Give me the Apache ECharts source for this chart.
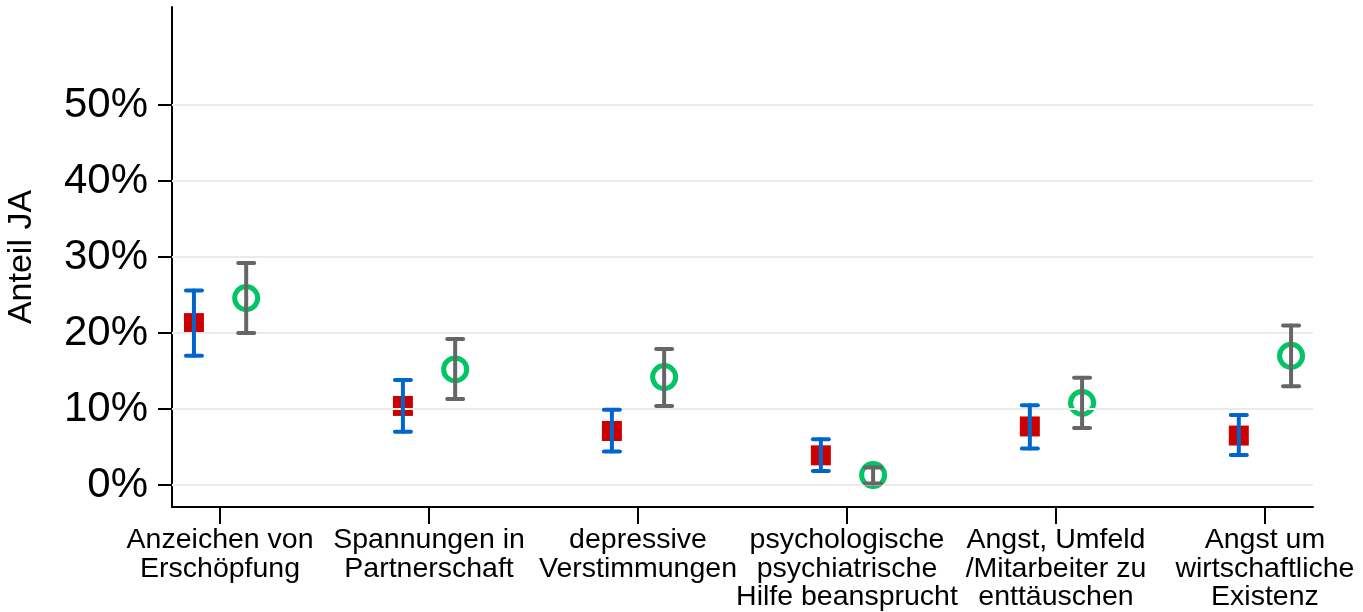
<!DOCTYPE html>
<html>
<head>
<meta charset="utf-8">
<script src="https://cdn.jsdelivr.net/npm/echarts@6/dist/echarts.min.js"></script>
<style>html,body{margin:0;padding:0;background:#fff}#c{width:1363px;height:612px}</style>
</head>
<body>
<div id="c"></div>
<script>
const categories = ['Anzeichen von\nErschöpfung', 'Spannungen in\nPartnerschaft', 'depressive\nVerstimmungen', 'psychologische\npsychiatrische\nHilfe beansprucht', 'Angst, Umfeld\n/Mitarbeiter zu\nenttäuschen', 'Angst um\nwirtschaftliche\nExistenz'];
const redValues = [21.3, 10.4, 7.1, 3.9, 7.7, 6.5];
const redLow = [17.0, 7.0, 4.4, 1.85, 4.8, 3.95];
const redHigh = [25.6, 13.8, 9.9, 6.0, 10.5, 9.2];
const greenValues = [24.6, 15.2, 14.2, 1.3, 10.8, 17.0];
const greenLow = [20.0, 11.3, 10.4, 0.2, 7.5, 13.0];
const greenHigh = [29.2, 19.2, 17.9, 2.3, 14.1, 21.0];
const yTicks = [0, 10, 20, 30, 40, 50];
const xTicks = [1, 2, 3, 4, 5, 6];
const offset = 0.125;

const FONT = 'Liberation Sans, Arial, sans-serif';
const chart = echarts.init(document.getElementById('c'), null, {renderer: 'canvas'});

function pts(vals, d) { return vals.map((v, i) => [xTicks[i] + d, v]); }
function bars(lo, hi, d) { return lo.map((l, i) => [xTicks[i] + d, l, hi[i]]); }

function errRender(color) {
  return function (params, api) {
    const x = api.value(0);
    const p1 = api.coord([x, api.value(1)]);
    const p2 = api.coord([x, api.value(2)]);
    const hw = 8;
    const mk = (x1, y1, x2, y2) => ({
      type: 'line', shape: {x1: x1, y1: y1, x2: x2, y2: y2},
      style: {stroke: color, lineWidth: 4, lineCap: 'round', fill: null}
    });
    return {
      type: 'group',
      children: [
        mk(p1[0], p1[1], p2[0], p2[1]),
        mk(p1[0] - hw, p1[1], p1[0] + hw, p1[1]),
        mk(p2[0] - hw, p2[1], p2[0] + hw, p2[1])
      ]
    };
  };
}

chart.setOption({
  animation: false,
  backgroundColor: '#fff',
  grid: {left: 172, right: 50, top: 7, bottom: 105, containLabel: false, outerBoundsMode: 'none'},
  xAxis: {
    type: 'value', min: 0.77, max: 6.23,
    axisLine: {show: true, onZero: false, lineStyle: {color: '#000', width: 2}},
    axisTick: {show: true, customValues: xTicks, length: 17, lineStyle: {color: '#000', width: 2}},
    axisLabel: {
      customValues: xTicks, margin: 19,
      formatter: v => categories[Math.round(v) - 1] || '',
      fontFamily: FONT, fontSize: 28.5, lineHeight: 28.5, color: '#000'
    },
    splitLine: {show: false}
  },
  yAxis: {
    type: 'value', min: -2.9, max: 62.9,
    name: 'Anteil JA', nameLocation: 'middle', nameGap: 133,
    nameTextStyle: {fontFamily: FONT, fontSize: 34, color: '#000'},
    axisLine: {show: true, onZero: false, lineStyle: {color: '#000', width: 2}},
    axisTick: {show: true, customValues: yTicks, length: 14, lineStyle: {color: '#000', width: 2}},
    axisLabel: {
      customValues: yTicks, margin: 24,
      formatter: v => v + '%',
      fontFamily: FONT, fontSize: 42, color: '#000'
    },
    splitLine: {show: false}
  },
  series: [
    {
      type: 'line', data: [], silent: true, z: 0,
      markLine: {
        silent: true, symbol: 'none', label: {show: false},
        lineStyle: {color: '#ebebeb', width: 2, type: 'solid'},
        data: yTicks.map(v => ({yAxis: v}))
      }
    },
    {
      type: 'scatter', data: pts(redValues, -offset), symbol: 'rect', symbolSize: 20,
      itemStyle: {color: '#cc0000', opacity: 1}, z: 2
    },
    {
      type: 'scatter', data: pts(greenValues, offset), symbol: 'circle', symbolSize: 23,
      itemStyle: {color: 'rgba(0,0,0,0)', borderColor: '#00c562', borderWidth: 5, opacity: 1}, z: 2
    },
    {
      type: 'custom', data: bars(redLow, redHigh, -offset), renderItem: errRender('#0066cc'), z: 5,
      encode: {x: 0, y: [1, 2]}
    },
    {
      type: 'custom', data: bars(greenLow, greenHigh, offset), renderItem: errRender('#666666'), z: 5,
      encode: {x: 0, y: [1, 2]}
    }
  ]
});
</script>
</body>
</html>
